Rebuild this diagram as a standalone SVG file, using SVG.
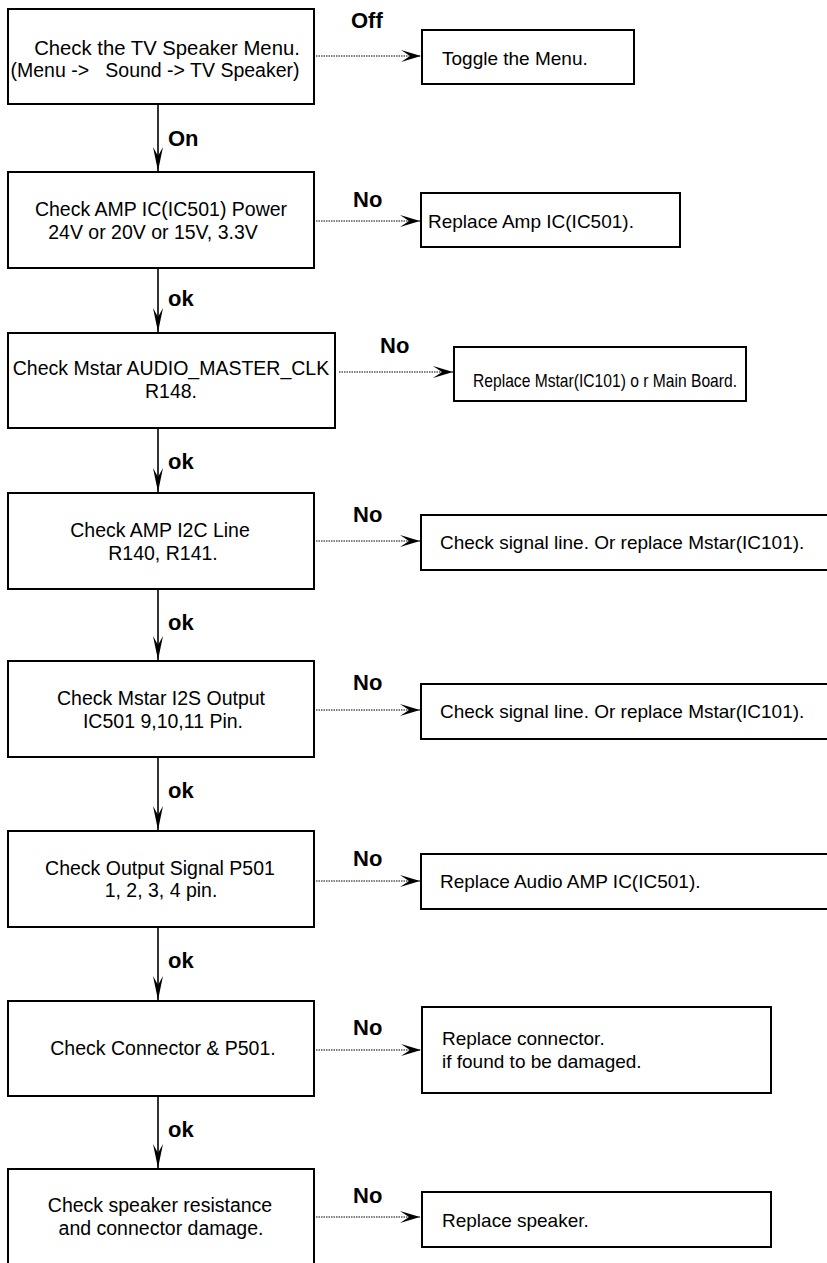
<svg xmlns="http://www.w3.org/2000/svg" width="827" height="1263" viewBox="0 0 827 1263">
<style>
.box{fill:#fff;stroke:#000;stroke-width:2}
.t{font-family:"Liberation Sans",Arial,sans-serif;font-size:19.5px;fill:#000;text-anchor:middle}
.r{font-family:"Liberation Sans",Arial,sans-serif;font-size:19px;fill:#000}
.lbl{font-family:"Liberation Sans",Arial,sans-serif;font-size:22px;font-weight:bold;fill:#000}
.v{stroke:#000;stroke-width:1.6;fill:none}
.h{stroke:#000;stroke-width:1.2;stroke-dasharray:1.5 1;fill:none}
</style>
<defs>
<marker id="ah" markerUnits="userSpaceOnUse" markerWidth="24" markerHeight="14" refX="20" refY="6" orient="auto" viewBox="0 0 24 14">
<path d="M20,6 L0,0 L9,6 L0,12 Z" fill="#000"/>
</marker>
<marker id="av" markerUnits="userSpaceOnUse" markerWidth="26" markerHeight="14" refX="24" refY="5" orient="auto" viewBox="0 0 26 14">
<path d="M24,5 L0,0 L9,5 L0,10 Z" fill="#000"/>
</marker>
</defs>
<g id="connectors">
<line class="v" x1="158" y1="104" x2="158" y2="171" marker-end="url(#av)"/>
<line class="v" x1="158" y1="268" x2="158" y2="332" marker-end="url(#av)"/>
<line class="v" x1="158" y1="428" x2="158" y2="492" marker-end="url(#av)"/>
<line class="v" x1="158" y1="589" x2="158" y2="660" marker-end="url(#av)"/>
<line class="v" x1="158" y1="757" x2="158" y2="830" marker-end="url(#av)"/>
<line class="v" x1="158" y1="927" x2="158" y2="1000" marker-end="url(#av)"/>
<line class="v" x1="158" y1="1096" x2="158" y2="1168" marker-end="url(#av)"/>
<line class="h" x1="316" y1="56" x2="421" y2="56" marker-end="url(#ah)"/>
<line class="h" x1="316" y1="221" x2="420" y2="221" marker-end="url(#ah)"/>
<line class="h" x1="339" y1="372" x2="453" y2="372" marker-end="url(#ah)"/>
<line class="h" x1="316" y1="541" x2="420" y2="541" marker-end="url(#ah)"/>
<line class="h" x1="316" y1="710" x2="420" y2="710" marker-end="url(#ah)"/>
<line class="h" x1="316" y1="881" x2="420" y2="881" marker-end="url(#ah)"/>
<line class="h" x1="316" y1="1050" x2="421" y2="1050" marker-end="url(#ah)"/>
<line class="h" x1="316" y1="1217" x2="420" y2="1217" marker-end="url(#ah)"/>
<text class="lbl" x="168" y="146">On</text>
<text class="lbl" x="168" y="306">ok</text>
<text class="lbl" x="168" y="469">ok</text>
<text class="lbl" x="168" y="630">ok</text>
<text class="lbl" x="168" y="798">ok</text>
<text class="lbl" x="168" y="968">ok</text>
<text class="lbl" x="168" y="1137">ok</text>
<text class="lbl" x="351" y="28">Off</text>
<text class="lbl" x="353" y="207">No</text>
<text class="lbl" x="380" y="353">No</text>
<text class="lbl" x="353" y="522">No</text>
<text class="lbl" x="353" y="690">No</text>
<text class="lbl" x="353" y="866">No</text>
<text class="lbl" x="353" y="1035">No</text>
<text class="lbl" x="353" y="1203">No</text>
</g>
<g id="n1"><rect class="box" x="8" y="9" width="306" height="95"/>
<text class="t" x="167" y="55" style="font-size:20.3px">Check the TV Speaker Menu.</text>
<text class="t" x="155" y="77" xml:space="preserve">(Menu ->   Sound -> TV Speaker)</text></g>
<g id="n1r"><rect class="box" x="422" y="30" width="212" height="54"/>
<text class="r" x="442" y="65">Toggle the Menu.</text></g>
<g id="n2"><rect class="box" x="8" y="172" width="306" height="96"/>
<text class="t" x="161" y="216">Check AMP IC(IC501) Power</text>
<text class="t" x="153" y="239">24V or 20V or 15V, 3.3V</text></g>
<g id="n2r"><rect class="box" x="421" y="193" width="259" height="54"/>
<text class="r" x="428" y="228">Replace Amp IC(IC501).</text></g>
<g id="n3"><rect class="box" x="8" y="333" width="327" height="95"/>
<text class="t" x="171" y="375">Check Mstar AUDIO_MASTER_CLK</text>
<text class="t" x="171" y="398">R148.</text></g>
<g id="n3r"><rect class="box" x="454" y="347" width="292" height="54"/>
<text class="r" x="473" y="387" textLength="264" lengthAdjust="spacingAndGlyphs">Replace Mstar(IC101) o r Main Board.</text></g>
<g id="n4"><rect class="box" x="8" y="493" width="306" height="96"/>
<text class="t" x="160" y="537">Check AMP I2C Line</text>
<text class="t" x="163" y="560">R140, R141.</text></g>
<g id="n4r"><rect class="box" x="421" y="515" width="410" height="55"/>
<text class="r" x="440" y="549">Check signal line. Or replace Mstar(IC101).</text></g>
<g id="n5"><rect class="box" x="8" y="661" width="306" height="96"/>
<text class="t" x="161" y="705">Check Mstar I2S Output</text>
<text class="t" x="163" y="728">IC501 9,10,11 Pin.</text></g>
<g id="n5r"><rect class="box" x="421" y="684" width="410" height="55"/>
<text class="r" x="440" y="718">Check signal line. Or replace Mstar(IC101).</text></g>
<g id="n6"><rect class="box" x="8" y="831" width="306" height="96"/>
<text class="t" x="160" y="875">Check Output Signal P501</text>
<text class="t" x="161" y="897">1, 2, 3, 4 pin.</text></g>
<g id="n6r"><rect class="box" x="421" y="854" width="410" height="55"/>
<text class="r" x="440" y="888">Replace Audio AMP IC(IC501).</text></g>
<g id="n7"><rect class="box" x="8" y="1001" width="306" height="95"/>
<text class="t" x="163" y="1055">Check Connector &amp; P501.</text></g>
<g id="n7r"><rect class="box" x="422" y="1007" width="349" height="86"/>
<text class="r" x="442" y="1045">Replace connector.</text>
<text class="r" x="442" y="1068">if found to be damaged.</text></g>
<g id="n8"><rect class="box" x="8" y="1169" width="306" height="110"/>
<text class="t" x="160" y="1212">Check speaker resistance</text>
<text class="t" x="161" y="1235">and connector damage.</text></g>
<g id="n8r"><rect class="box" x="422" y="1192" width="349" height="55"/>
<text class="r" x="442" y="1227">Replace speaker.</text></g>
</svg>
